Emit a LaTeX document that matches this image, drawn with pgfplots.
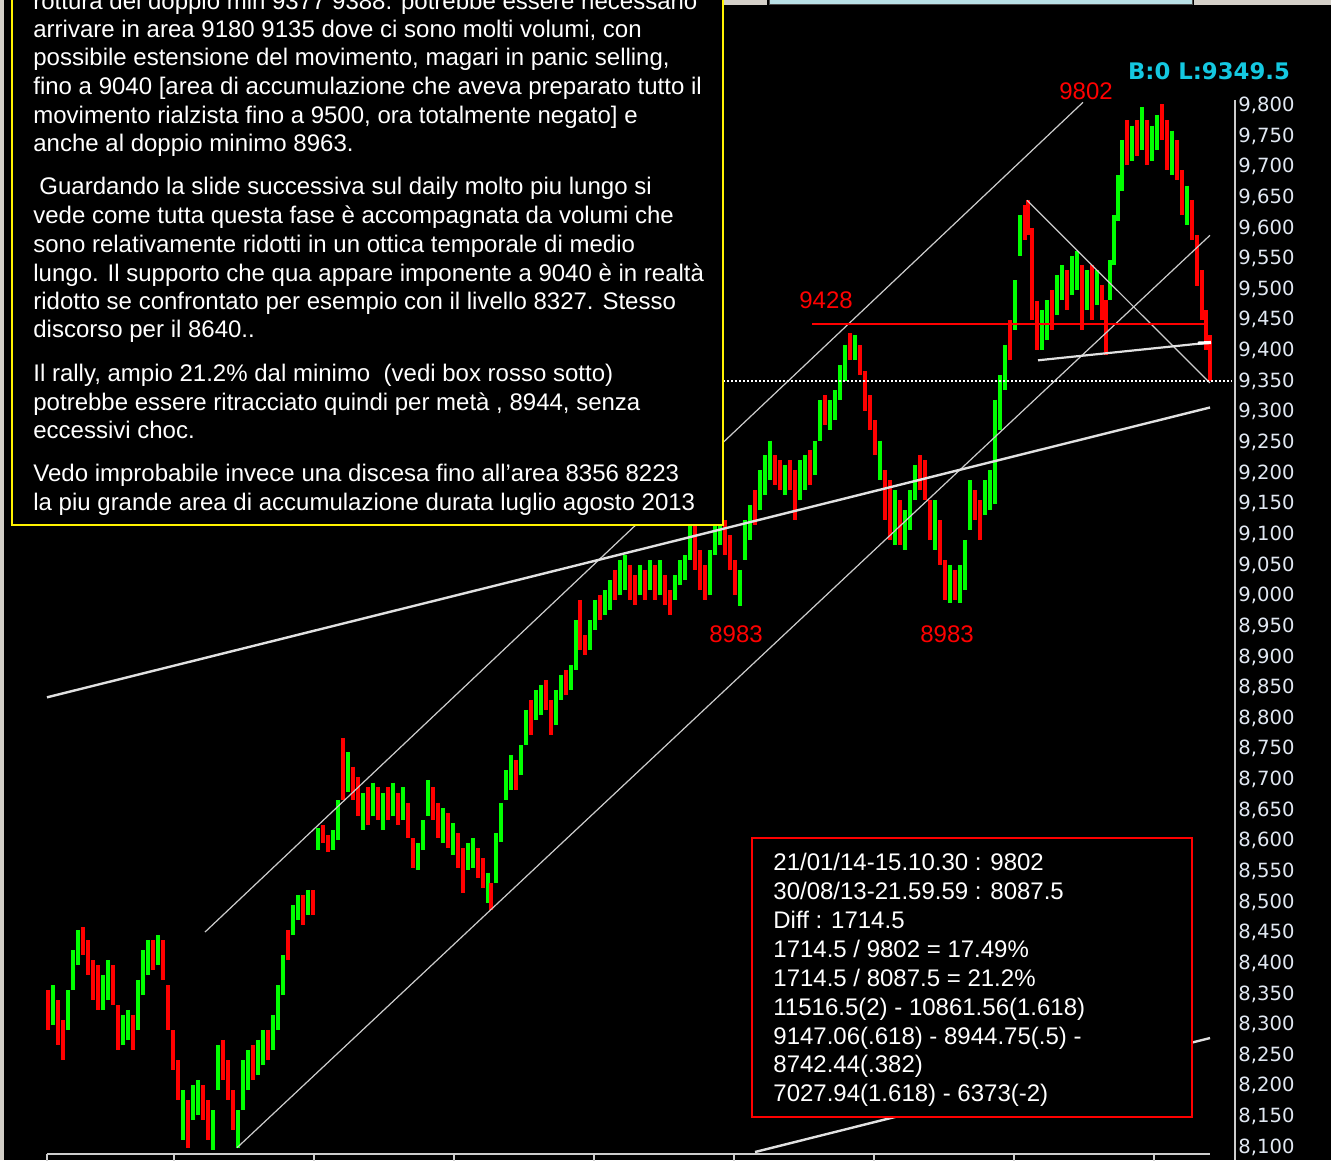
\documentclass[border=0pt]{standalone}
\usepackage{pgfplots}
\pgfplotsset{compat=1.18}
\usepackage{pgfplotstable}
\usepackage{fontspec}
\setmainfont{Liberation Sans}
\newfontfamily\tahf{DejaVu Sans}
\definecolor{bargreen}{RGB}{0,255,0}
\definecolor{barred}{RGB}{255,0,0}
\definecolor{tickcol}{RGB}{225,232,242}
\definecolor{linegrey}{RGB}{205,205,205}
\definecolor{cyanlab}{RGB}{20,200,225}
\definecolor{winGrey}{RGB}{212,208,200}
\definecolor{winBlue}{RGB}{185,224,230}
\newcommand\txt{\fontsize{12pt}{14pt}\selectfont}
\pgfplotstableread{
x lo hi c
48 8291 8356 0
53 8299 8364 1
58 8266 8340 0
63 8242 8307 0
68 8291 8356 1
73 8356 8421 1
78 8397 8454 1
83 8413 8459 0
88 8381 8438 0
93 8340 8405 0
98 8324 8397 0
103 8324 8381 1
108 8340 8405 1
113 8332 8397 0
118 8258 8332 0
123 8266 8316 1
128 8275 8324 1
133 8258 8316 0
138 8291 8373 1
143 8348 8421 1
148 8381 8438 1
153 8389 8438 0
158 8397 8446 1
163 8373 8438 0
168 8291 8364 0
173 8226 8291 0
178 8177 8242 0
183 8112 8193 1
188 8098 8177 0
193 8144 8201 1
198 8152 8209 1
203 8144 8201 0
208 8112 8177 0
213 8095 8160 1
218 8193 8266 1
223 8209 8275 0
228 8177 8242 0
233 8128 8193 0
238 8098 8160 1
243 8160 8242 1
248 8193 8258 1
253 8209 8266 0
258 8217 8275 1
263 8234 8291 1
268 8242 8291 0
273 8258 8316 1
278 8291 8364 1
283 8348 8413 1
288 8405 8454 0
293 8446 8495 1
298 8470 8511 1
303 8462 8511 0
308 8479 8519 1
313 8479 8519 0
318 8585 8620 1
323 8596 8625 0
328 8581 8609 0
333 8585 8617 1
338 8601 8666 1
343 8666 8768 0
348 8680 8745 1
353 8666 8721 0
358 8640 8704 0
363 8617 8678 1
368 8625 8687 0
373 8640 8695 1
378 8634 8687 0
383 8617 8678 1
388 8634 8687 0
393 8640 8695 1
398 8625 8678 0
403 8634 8687 1
408 8604 8662 0
413 8556 8604 0
418 8552 8596 1
423 8585 8634 1
428 8640 8699 1
433 8634 8687 0
438 8604 8662 0
443 8596 8653 1
448 8588 8645 0
453 8576 8629 1
458 8556 8612 0
463 8515 8588 0
468 8552 8596 1
473 8556 8604 1
478 8539 8588 0
483 8523 8572 0
488 8499 8548 1
491 8487 8531 0
496 8531 8612 1
501 8598 8662 1
506 8666 8715 1
511 8682 8740 1
516 8682 8732 0
521 8707 8756 1
526 8756 8813 1
531 8772 8829 0
536 8797 8846 1
541 8805 8854 1
546 8813 8862 0
551 8772 8829 0
556 8789 8846 1
561 8829 8870 1
566 8838 8878 0
571 8846 8887 1
576 8878 8960 1
580 8911 8993 0
585 8903 8936 0
590 8911 8960 1
595 8944 8993 1
600 8960 9001 0
605 8968 9009 1
610 8976 9025 1
615 8993 9042 0
620 9001 9058 1
625 9009 9066 1
630 8993 9050 0
635 8985 9034 0
640 9001 9050 1
645 8993 9042 0
650 9009 9058 1
655 8993 9050 0
660 9001 9058 1
665 8985 9034 0
670 8968 9009 0
675 8993 9034 1
680 9017 9058 1
685 9025 9066 1
690 9058 9123 1
695 9042 9115 0
700 9009 9074 0
705 8993 9050 0
710 9001 9074 1
715 9066 9123 1
720 9082 9139 1
725 9066 9123 0
730 9042 9099 0
735 9001 9058 0
740 8983 9042 1
745 9058 9123 1
750 9090 9148 1
755 9115 9172 0
760 9139 9205 1
765 9164 9229 1
770 9188 9253 1
775 9180 9229 0
780 9172 9221 0
785 9164 9213 1
790 9172 9221 0
795 9123 9205 0
800 9156 9221 1
805 9172 9229 1
810 9180 9237 0
815 9197 9253 1
820 9253 9319 1
825 9278 9327 0
830 9270 9319 1
835 9286 9335 1
840 9319 9376 1
845 9351 9409 1
850 9384 9428 0
855 9384 9425 1
860 9360 9409 0
865 9302 9367 0
870 9270 9327 0
875 9229 9286 0
880 9188 9253 1
885 9123 9205 0
890 9090 9188 0
895 9082 9172 1
900 9082 9156 0
905 9074 9139 1
910 9107 9172 1
915 9156 9213 1
920 9172 9229 0
925 9156 9221 0
930 9090 9156 0
935 9074 9156 1
940 9050 9123 0
945 8993 9058 0
950 8988 9050 1
955 8993 9042 0
960 8988 9050 1
965 9009 9091 1
970 9107 9188 1
975 9123 9172 0
980 9090 9156 0
985 9131 9188 1
990 9139 9205 1
995 9150 9320 1
1000 9270 9360 1
1005 9335 9409 1
1010 9384 9449 0
1015 9433 9515 1
1020 9555 9621 1
1025 9580 9637 0
1028 9588 9645 0
1032 9450 9600 0
1037 9400 9480 0
1042 9400 9466 1
1047 9417 9482 1
1052 9433 9498 0
1057 9458 9523 1
1062 9482 9539 1
1067 9466 9531 0
1072 9490 9555 1
1077 9498 9563 1
1082 9433 9539 0
1087 9466 9531 1
1092 9449 9539 0
1097 9474 9531 1
1102 9449 9507 0
1106 9392 9482 0
1110 9482 9547 1
1114 9539 9621 1
1118 9612 9686 1
1122 9661 9743 1
1127 9702 9776 0
1132 9710 9767 1
1137 9718 9776 0
1142 9727 9797 1
1147 9702 9776 0
1152 9710 9767 1
1157 9727 9784 1
1162 9743 9802 0
1167 9694 9776 0
1172 9686 9759 1
1177 9678 9743 0
1182 9621 9694 0
1187 9604 9669 1
1192 9580 9645 0
1197 9506 9588 0
1202 9449 9531 0
1206 9400 9466 0
1210 9350 9425 0
}\bars
\begin{document}
\begin{tikzpicture}
\useasboundingbox (0,0) rectangle (665.5pt,580pt);
\clip (0,0) rectangle (665.5pt,580pt);
\begin{axis}[
  at={(0,0)}, anchor=south west,
  scale only axis, width=665.5pt, height=580pt,
  xmin=0, xmax=1331, ymin=8079, ymax=9972,
  axis background/.style={fill=black},
  axis line style={draw=none},
  tick style={draw=none},
  xtick=\empty,
  ytick={8100,8150,...,9800},
  yticklabel pos=right,
  scaled y ticks=false,
  /pgf/number format/1000 sep={,},
  /pgf/number format/assume math mode=true,
  yticklabel style={anchor=west, inner sep=0pt, xshift=-46.5pt, font=\tahf\fontsize{9.8pt}{11pt}\selectfont, text=tickcol},
  clip=false,
]
\addplot[draw=none, mark=none, restrict expr to domain={\thisrow{c}}{0.5:1.5},
  error bars/.cd, y dir=minus, y explicit, error mark=none,
  error bar style={draw=bargreen, line width=2.4pt}]
  table[x=x, y=hi, y error expr=\thisrow{hi}-\thisrow{lo}] {\bars};
\addplot[draw=none, mark=none, restrict expr to domain={\thisrow{c}}{-0.5:0.5},
  error bars/.cd, y dir=minus, y explicit, error mark=none,
  error bar style={draw=barred, line width=2.4pt}]
  table[x=x, y=hi, y error expr=\thisrow{hi}-\thisrow{lo}] {\bars};
% trend lines
\addplot[linegrey, line width=0.6pt] coordinates {(205,8451) (1083,9805)};
\addplot[linegrey, line width=0.6pt] coordinates {(237,8099) (1210,9588)};
\addplot[white!88!black, line width=1.2pt] coordinates {(47,8834) (1210,9307)};
\addplot[white!88!black, line width=1.2pt] coordinates {(755,8092) (1210,8278)};
\addplot[linegrey, line width=0.6pt] coordinates {(1027,9645) (1210,9347)};
\addplot[white!88!black, line width=1.1pt] coordinates {(1038,9384) (1210,9413)};
\addplot[white, line width=1.6pt] coordinates {(1198,9412) (1211,9413)};
\addplot[red, line width=1pt] coordinates {(812,9444) (1207,9444)};
\addplot[white, line width=0.8pt, dash pattern=on 1pt off 1pt] coordinates {(723,9350) (1232,9350)};
\end{axis}
\begin{scope}[x=0.5pt, y=-0.5pt, yshift=580pt]
% window chrome
\fill[winGrey] (0,0) rectangle (4,1160);
\fill[winGrey] (722,0) rectangle (767,5);
\fill[winBlue] (769,0) rectangle (1192,5);
\draw[black!70, line width=0.5pt] (769,-1) rectangle (1192,5);
\fill[winGrey] (1194,0) rectangle (1331,5);
% right axis line
\draw[linegrey, line width=0.6pt] (1235,100) -- (1235,1160);
% bottom bar
\draw[linegrey, line width=1pt] (47,1154) -- (1210,1154);
\foreach \sx in {47,174,314,454,594,734,874,1014,1154} \draw[linegrey, line width=0.6pt] (\sx,1154) -- (\sx,1162);
% yellow text box
\draw[yellow, line width=1pt, fill=black] (12,-20) rectangle (723,525);
\begin{scope}[every node/.style={anchor=base west, inner sep=0pt, text=white, font=\txt}]
\node at (33,10) {rottura del doppio min 9377 9388. potrebbe essere necessario};
\node at (33,38) {arrivare in area 9180 9135 dove ci sono molti volumi, con};
\node at (33,66) {possibile estensione del movimento, magari in panic selling,};
\node at (33,95) {fino a 9040 [area di accumulazione che aveva preparato tutto il};
\node at (33,124) {movimento rialzista fino a 9500, ora totalmente negato] e};
\node at (33,152) {anche al doppio minimo 8963.};
\node at (39,195) {Guardando la slide successiva sul daily molto piu lungo si};
\node at (33,224) {vede come tutta questa fase è accompagnata da volumi che};
\node at (33,253) {sono relativamente ridotti in un ottica temporale di medio};
\node at (33,282) {lungo. Il supporto che qua appare imponente a 9040 è in realtà};
\node at (33,310) {ridotto se confrontato per esempio con il livello 8327. Stesso};
\node at (33,338) {discorso per il 8640..};
\node at (33,382) {Il rally, ampio 21.2\% dal minimo\ \ (vedi box rosso sotto)};
\node at (33,411) {potrebbe essere ritracciato quindi per metà , 8944, senza};
\node at (33,439) {eccessivi choc.};
\node at (33,482) {Vedo improbabile invece una discesa fino all’area 8356 8223};
\node at (33,511) {la piu grande area di accumulazione durata luglio agosto 2013};
\end{scope}
% red box
\draw[red, line width=1pt, fill=black] (752,838) rectangle (1192,1117);
\begin{scope}[every node/.style={anchor=base west, inner sep=0pt, text=white, font=\txt}]
\node at (773,871) {21/01/14-15.10.30 : 9802};
\node at (773,900) {30/08/13-21.59.59 : 8087.5};
\node at (773,929) {Diff : 1714.5};
\node at (773,958) {1714.5 / 9802 = 17.49\%};
\node at (773,987) {1714.5 / 8087.5 = 21.2\%};
\node at (773,1016) {11516.5(2) - 10861.56(1.618)};
\node at (773,1045) {9147.06(.618) - 8944.75(.5) -};
\node at (773,1073) {8742.44(.382)};
\node at (773,1102) {7027.94(1.618) - 6373(-2)};
\end{scope}
% price labels
\begin{scope}[every node/.style={anchor=base, inner sep=0pt, text=red, font=\txt}]
\node at (1086,100) {9802};
\node at (826,309) {9428};
\node at (736,643) {8983};
\node at (947,643) {8983};
\end{scope}
\node[anchor=base, inner sep=0pt, text=cyanlab, font=\tahf\bfseries\fontsize{11.4pt}{13pt}\selectfont] at (1209,80) {B:0 L:9349.5};
\end{scope}
\end{tikzpicture}
\end{document}
